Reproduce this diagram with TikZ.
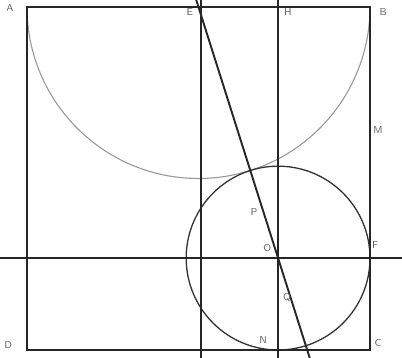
\documentclass[tikz,border=0pt]{standalone}
\usepackage{tikz}
\usetikzlibrary{calc}
\tikzset{
  side/.style ={draw=black!85, line width=1.1pt},
  aux/.style  ={draw=black!85, line width=0.85pt},
  semi/.style ={draw=black!40, line width=0.55pt},
  circ/.style ={draw=black!80, line width=0.65pt},
  ptlbl/.style={font=\tiny\sffamily, text=black!60, inner sep=0.5pt},
}

\begin{document}
\begin{tikzpicture}
\useasboundingbox (-0.472,-0.140) rectangle (6.560,6.122);

% square corners and special points
\coordinate (A) at (0,6);
\coordinate (B) at (6,6);
\coordinate (C) at (6,0);
\coordinate (D) at (0,0);
\coordinate (E) at (3,6);
\coordinate (O) at ({6-1.6077},1.6077);
\coordinate (F) at (6,1.6077);
\coordinate (H) at ({6-1.6077},6);
\coordinate (N) at ({6-1.6077},0);

% ends of the long lines
\coordinate (hl) at (-0.472,1.6077);
\coordinate (hr) at (6.560,1.6077);
\coordinate (vt) at (3.04,6.122);
\coordinate (vb) at (3.04,-0.140);
\coordinate (wt) at ({6-1.6077},6.122);
\coordinate (wb) at ({6-1.6077},-0.140);
\coordinate (st) at (2.961,6.122);
\coordinate (sb) at (4.946,-0.140);

% semicircle on AB and inner circle
\draw[semi] (A) arc[start angle=180, end angle=360, radius=3];
\draw[circ] (O) circle[radius=1.6077];

% square
\draw[side] (A) -- (B) -- (C) -- (D) -- cycle;

% lines through O
\draw[aux] (hl) -- (hr);
\draw[aux] (vt) -- (vb);
\draw[aux] (wt) -- (wb);
\draw[aux, line width=0.95pt] (st) -- (sb);

% labels
\node[ptlbl] (lA) at ($(A)+(-0.30,-0.02)$) {A};
\node[ptlbl] (lE) at ($(E)+(-0.15,-0.09)$) {E};
\node[ptlbl] (lH) at ($(H)+(0.17,-0.09)$) {H};
\node[ptlbl] (lB) at ($(B)+(0.23,-0.09)$) {B};
\node[ptlbl] (lM) at (6.14,3.85) {M};
\node[ptlbl] (lF) at ($(F)+(0.09,0.23)$) {F};
\node[ptlbl] (lP) at (3.97,2.41) {P};
\node[ptlbl] (lO) at ($(O)+(-0.19,0.18)$) {O};
\node[ptlbl] (lQ) at (4.55,0.91) {Q};
\node[ptlbl] (lN) at ($(N)+(-0.26,0.18)$) {N};
\node[ptlbl] (lD) at ($(D)+(-0.33,0.09)$) {D};
\node[ptlbl] (lC) at ($(C)+(0.14,0.12)$) {C};

\end{tikzpicture}
\end{document}
